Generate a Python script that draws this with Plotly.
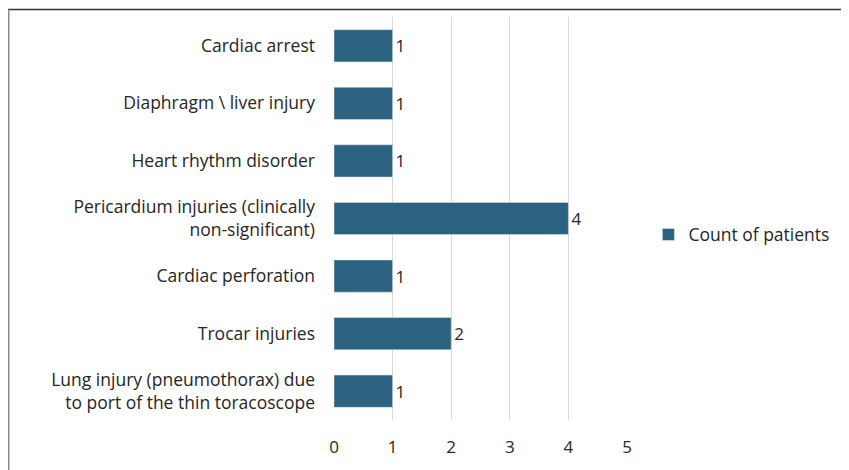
import plotly.graph_objects as go

# complication categories, listed top to bottom as in the chart
complications = [
    "Cardiac arrest",
    "Diaphragm \\ liver injury",
    "Heart rhythm disorder",
    "Pericardium injuries (clinically<br>non-significant)",
    "Cardiac perforation",
    "Trocar injuries",
    "Lung injury (pneumothorax) due<br>to port of the thin toracoscope",
]
patient_counts = [1, 1, 1, 4, 1, 2, 1]
x_ticks = [0, 1, 2, 3, 4, 5]

bar_color = "#2A6280"
text_color = "#262626"

fig = go.Figure()
fig.add_trace(go.Bar(
    y=complications,
    x=patient_counts,
    orientation="h",
    name="Count of patients",
    marker=dict(color=bar_color),
    width=0.56,
    text=patient_counts,
    textposition="outside",
    textfont=dict(size=17, color=text_color),
    cliponaxis=False,
))

# the page body adds an 8px offset, so margins are shifted to compensate
fig.update_layout(
    width=849,
    height=470,
    margin=dict(l=326, r=230, t=9, b=58),
    paper_bgcolor="white",
    plot_bgcolor="white",
    font=dict(family="Open Sans, sans-serif", size=17.5, color=text_color),
    showlegend=True,
    legend=dict(x=1.073, y=0.46, xanchor="left", yanchor="middle",
                font=dict(size=17.5), itemwidth=30),
)

fig.update_xaxes(
    range=[0, 5],
    tickvals=x_ticks,
    showgrid=True,
    gridcolor="#D9D9D9",
    gridwidth=1,
    zeroline=False,
    showline=False,
    ticks="",
    ticklabelstandoff=15,
    tickfont=dict(size=17),
)
fig.update_yaxes(
    autorange="reversed",
    showgrid=False,
    showline=False,
    ticks="",
    ticklabelstandoff=18,
    tickfont=dict(size=17.5),
)

# frame lines of the chart: dark top edge, lighter left edge
px_x = lambda p: (p - 326) / 293
px_y = lambda p: (412 - p) / 403
fig.add_shape(type="line", xref="paper", yref="paper",
              x0=px_x(0), x1=px_x(849), y0=px_y(1.5), y1=px_y(1.5),
              line=dict(color="#333333", width=1.5))
fig.add_shape(type="line", xref="paper", yref="paper",
              x0=px_x(0.75), x1=px_x(0.75), y0=px_y(1.5), y1=px_y(470),
              line=dict(color="#8C8C8C", width=1.5))

fig.write_html("out.html")
